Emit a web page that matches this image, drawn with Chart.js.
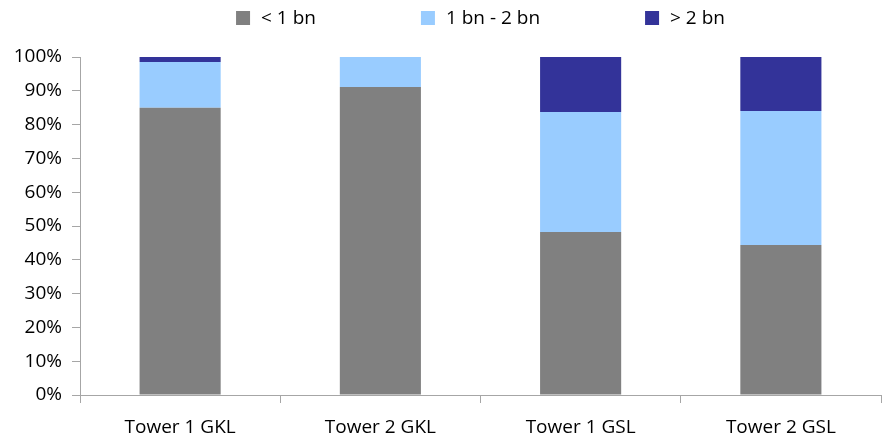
<!DOCTYPE html>
<html>
<head>
<meta charset="utf-8">
<script src="https://cdn.jsdelivr.net/npm/chart.js@4/dist/chart.umd.min.js"></script>
<style>
  html, body { margin: 0; padding: 0; background: #ffffff; }
  #wrap { width: 885px; height: 440px; }
</style>
</head>
<body>
<div id="wrap"><canvas id="c" width="885" height="440"></canvas></div>
<script>
const categories = ["Tower 1 GKL", "Tower 2 GKL", "Tower 1 GSL", "Tower 2 GSL"];
const seriesNames = ["< 1 bn", "1 bn - 2 bn", "> 2 bn"];
const under1bn = [85.0, 91.1, 48.2, 44.4];
const between1and2bn = [13.5, 8.9, 35.5, 39.6];
const over2bn = [1.5, 0.0, 16.3, 16.0];
const yTicks = [0, 10, 20, 30, 40, 50, 60, 70, 80, 90, 100];

const colors = ["#808080", "#99CCFF", "#333399"];
const FONT = "'Open Sans', 'Liberation Sans', sans-serif";
const axisColor = "#a6a6a6";

const customLegend = {
  id: "customLegend",
  afterDraw(chart) {
    const ctx = chart.ctx;
    const box = 14, gap = 11, spacing = 105;
    ctx.save();
    ctx.font = "19px " + FONT;
    const items = chart.data.datasets.map(ds => ({
      text: ds.label, color: ds.backgroundColor,
      w: box + gap + ctx.measureText(ds.label).width
    }));
    const total = items.reduce((s, it) => s + it.w, 0) + spacing * (items.length - 1);
    const ca = chart.chartArea;
    let x = (ca.left + ca.right) / 2 - total / 2;
    const yMid = 18;
    items.forEach(it => {
      ctx.fillStyle = it.color;
      ctx.fillRect(x, yMid - box / 2, box, box);
      ctx.fillStyle = "#000000";
      ctx.textBaseline = "middle";
      ctx.textAlign = "left";
      ctx.fillText(it.text, x + box + gap, yMid + 1);
      x += it.w + spacing;
    });
    ctx.restore();
  }
};

new Chart(document.getElementById("c"), {
  type: "bar",
  data: {
    labels: categories,
    datasets: [
      { label: seriesNames[0], data: under1bn, backgroundColor: colors[0] },
      { label: seriesNames[1], data: between1and2bn, backgroundColor: colors[1] },
      { label: seriesNames[2], data: over2bn, backgroundColor: colors[2] }
    ]
  },
  options: {
    responsive: false,
    animation: false,
    devicePixelRatio: 1,
    layout: { padding: { top: 57, right: 4, bottom: 0, left: 0 } },
    datasets: { bar: { barPercentage: 0.405, categoryPercentage: 1.0, borderWidth: 0 } },
    plugins: {
      legend: { display: false },
      tooltip: { enabled: false }
    },
    scales: {
      x: {
        stacked: true,
        afterFit(scale) { scale.height = 45; },
        grid: { display: true, drawOnChartArea: false, drawTicks: true, tickLength: 8, color: axisColor, offset: true },
        border: { display: true, color: axisColor, width: 1 },
        ticks: { color: "#000000", font: { family: FONT, size: 19 }, padding: 13, maxRotation: 0 }
      },
      y: {
        stacked: true,
        min: 0,
        max: 100,
        afterBuildTicks(scale) { scale.ticks = yTicks.map(v => ({ value: v })); },
        afterFit(scale) { scale.width = 80; },
        grid: { display: true, drawOnChartArea: false, drawTicks: true, tickLength: 8, color: axisColor },
        border: { display: true, color: axisColor, width: 1 },
        ticks: { color: "#000000", font: { family: FONT, size: 19 }, padding: 10, callback: v => v + "%" }
      }
    }
  },
  plugins: [customLegend]
});
</script>
</body>
</html>
